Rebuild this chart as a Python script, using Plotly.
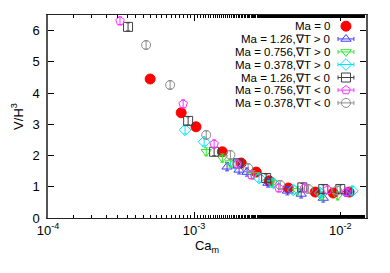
import plotly.graph_objects as go

# ---- data ----
ca_ma0 = [5.0e-4, 8.15e-4, 1.03e-3, 1.56e-3, 2.10e-3, 2.66e-3, 3.26e-3, 4.41e-3, 6.74e-3, 8.95e-3, 1.15e-2]
v_ma0 = [4.45, 3.37, 2.92, 2.12, 1.76, 1.47, 1.19, 0.96, 0.83, 0.80, 0.83]

ca_126p = [1.68e-3, 2.03e-3, 2.3e-3, 3.2e-3, 4.35e-3, 5.4e-3, 7.65e-3, 1.1e-2]
v_126p = [1.64, 1.54, 1.47, 1.12, 0.87, 0.77, 0.64, 0.82]

ca_756p = [1.21e-3, 1.56e-3, 1.77e-3, 2.54e-3, 3.42e-3, 5.1e-3, 7.5e-3, 9.6e-3]
v_756p = [2.12, 1.92, 1.76, 1.38, 1.12, 0.87, 0.71, 0.71]

ca_378p = [8.67e-4, 1.17e-3, 1.91e-3, 2.78e-3, 3.48e-3, 4.77e-3, 7.3e-3, 1.21e-2]
v_378p = [2.82, 2.44, 1.73, 1.28, 1.12, 0.90, 0.80, 0.87]

ca_126n = [3.53e-4, 9.1e-4, 1.37e-3, 1.99e-3, 3.11e-3, 5.5e-3, 7.65e-3, 1.0e-2]
v_126n = [6.12, 3.11, 2.12, 1.75, 1.28, 0.98, 0.93, 0.93]

ca_756n = [3.11e-4, 8.41e-4, 1.37e-3, 1.97e-3, 2.46e-3, 3.8e-3, 5.7e-3, 8.2e-3, 1.1e-2]
v_756n = [6.31, 3.65, 2.37, 1.73, 1.38, 0.96, 0.96, 0.90, 0.83]

ca_378n = [4.69e-4, 6.85e-4, 1.21e-3, 1.77e-3, 2.34e-3, 3.88e-3, 6.04e-3, 9.5e-3]
v_378n = [5.54, 4.26, 2.66, 2.02, 1.60, 1.06, 0.93, 0.88]

labels = ["Ma = 0", "Ma = 1.26,\u2207T > 0", "Ma = 0.756,\u2207T > 0", "Ma = 0.378,\u2207T > 0",
          "Ma = 1.26,\u2207T < 0", "Ma = 0.756,\u2207T < 0", "Ma = 0.378,\u2207T < 0"]
x_tickvals = [1e-4, 1e-3, 1e-2]
x_ticktext = ["10<sup>-4</sup>", "10<sup>-3</sup>", "10<sup>-2</sup>"]
y_tickvals = [0, 1, 2, 3, 4, 5, 6]

series = [
    (ca_ma0, v_ma0, "circle", "#ff0000", 10),
    (ca_126p, v_126p, "triangle-up-open", "#3b3bff", 9),
    (ca_756p, v_756p, "triangle-down-open", "#33e633", 9),
    (ca_378p, v_378p, "diamond-open", "#00e5ff", 9),
    (ca_126n, v_126n, "square-open", "#404040", 9),
    (ca_756n, v_756n, "pentagon-open", "#ff33ff", 9),
    (ca_378n, v_378n, "circle-open", "#8c8c8c", 9),
]

fig = go.Figure()
for (xs, ys, sym, col, sz), lab in zip(series, labels):
    err = None
    if "open" in sym:
        err = dict(type="constant", value=0.13, color=col, thickness=1, width=2)
    fig.add_trace(go.Scatter(
        x=xs, y=ys, mode="markers", name=lab,
        marker=dict(symbol=sym, color=col, size=sz, line=dict(color=col, width=1)),
        error_y=err, showlegend=False,
    ))

# manual legend (text right, symbol at right) on overlay axes
leg_y = [0.945, 0.882, 0.818, 0.756, 0.692, 0.630, 0.567]
for i, ((xs, ys, sym, col, sz), lab) in enumerate(zip(series, labels)):
    fig.add_trace(go.Scatter(
        x=[0.937], y=[leg_y[i]], mode="markers", xaxis="x2", yaxis="y2",
        marker=dict(symbol=sym, color=col, size=sz, line=dict(color=col, width=1)),
        error_x=(dict(type="constant", value=0.025, color=col, thickness=1, width=2)
                 if "open" in sym else None),
        showlegend=False, hoverinfo="skip",
    ))
    fig.add_annotation(x=0.893, y=leg_y[i], xref="x2", yref="y2", text=lab,
                       showarrow=False, xanchor="right", yanchor="middle",
                       font=dict(size=11.5, color="#000"))

# the page body adds an 8px offset; compensate so the plot area sits at 48..366 x 15..218
fig.update_layout(
    width=382, height=265,
    margin=dict(l=40, r=24, t=7, b=55),
    paper_bgcolor="white", plot_bgcolor="white",
    font=dict(family="Liberation Sans, Arial, sans-serif", size=13, color="#000"),
    xaxis=dict(type="log", range=[-4, -1.824], tickvals=x_tickvals, ticktext=x_ticktext,
               ticks="inside", ticklen=6, tickcolor="#000", showline=True, linecolor="#222",
               linewidth=1, mirror="ticks", showgrid=False, zeroline=False, automargin=False,
               minor=dict(ticks="inside", ticklen=3, tickcolor="#000", showgrid=False),
               title=dict(text="Ca<sub>m</sub>", standoff=4, font=dict(size=13))),
    yaxis=dict(range=[0, 6.5], tickvals=y_tickvals, ticks="inside", ticklen=6,
               tickcolor="#000", showline=True, linecolor="#555", linewidth=1.5,
               mirror="ticks", showgrid=False, zeroline=False, automargin=False,
               ticklabelstandoff=4,
               title=dict(text="V/H<sup>3</sup>", standoff=6, font=dict(size=13))),
    xaxis2=dict(domain=[0, 1], range=[0, 1], overlaying="x", visible=False, anchor="y2"),
    yaxis2=dict(domain=[0, 1], range=[0, 1], overlaying="y", visible=False, anchor="x2"),
)

fig.write_html("out.html")
